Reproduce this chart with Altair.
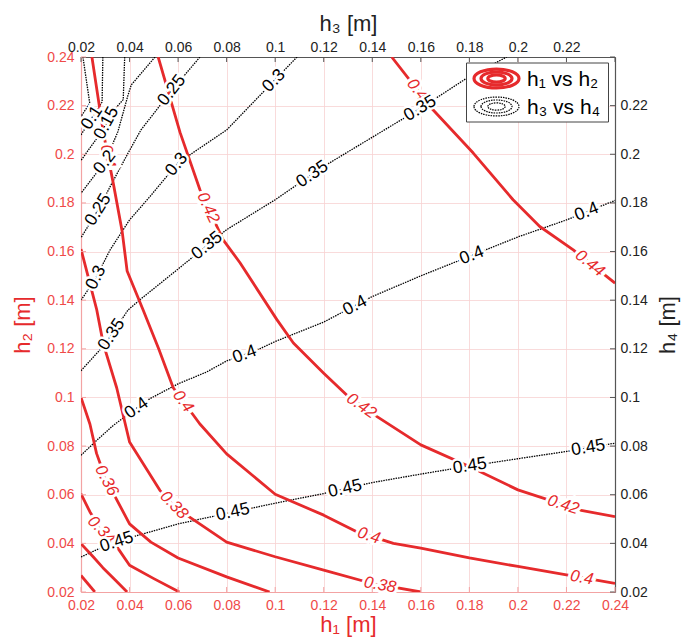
import math
import altair as alt
import pandas as pd

# ---------------- axis ticks ----------------
TICKS = [round(0.02 * i, 2) for i in range(1, 13)]       # 0.02 .. 0.24
TICKS_TOP = TICKS[:-1]                                  # 0.02 .. 0.22

# ---------------- red contours: h1 vs h2 ----------------
red_levels = [0.30, 0.32, 0.34, 0.36, 0.38, 0.40, 0.42, 0.44]
red_x = [
    [0.02, 0.0257],
    [0.02, 0.025, 0.029, 0.034, 0.039],
    [0.02, 0.0237, 0.028, 0.0339, 0.04, 0.05, 0.0605],
    [0.02, 0.0237, 0.0264, 0.030, 0.0347, 0.04, 0.0488, 0.06, 0.08, 0.0977],
    [0.02, 0.0265, 0.0292, 0.0347, 0.04, 0.0525, 0.06, 0.0689, 0.08, 0.10, 0.12, 0.14, 0.16],
    [0.0245, 0.0292, 0.0335, 0.037, 0.039, 0.0456, 0.052, 0.058, 0.0689, 0.08, 0.10, 0.12,
     0.1336, 0.1487, 0.16, 0.18, 0.20, 0.22, 0.24],
    [0.0518, 0.0608, 0.069, 0.0785, 0.0855, 0.1007, 0.1075, 0.12, 0.13, 0.1418, 0.16, 0.18,
     0.20, 0.2255, 0.24],
    [0.148, 0.165, 0.1816, 0.198, 0.209, 0.2228, 0.24],
]
red_y = [
    [0.0268, 0.02],
    [0.0399, 0.0345, 0.030, 0.025, 0.02],
    [0.0604, 0.0529, 0.046, 0.0399, 0.031, 0.0255, 0.02],
    [0.100, 0.089, 0.077, 0.067, 0.058, 0.048, 0.0405, 0.034, 0.0262, 0.02],
    [0.161, 0.136, 0.122, 0.104, 0.0817, 0.0618, 0.054, 0.048, 0.0405, 0.0345, 0.029, 0.0235, 0.02],
    [0.24, 0.209, 0.187, 0.168, 0.152, 0.136, 0.12, 0.104, 0.0892, 0.0768, 0.0602, 0.0516,
     0.0448, 0.040, 0.038, 0.034, 0.0305, 0.027, 0.0235],
    [0.24, 0.209, 0.1854, 0.1649, 0.1554, 0.132, 0.1224, 0.110, 0.1005, 0.0922, 0.0805, 0.0716,
     0.062, 0.0537, 0.051],
    [0.24, 0.2183, 0.2005, 0.1813, 0.1703, 0.1607, 0.147],
]
red_label_text = ["0.34", "0.36", "0.38", "0.4", "0.4", "0.42", "0.42", "0.42", "0.4", "0.4",
                  "0.38", "0.44", "0.44"]
red_label_line = [2, 3, 4, 5, 5, 6, 6, 6, 5, 5, 4, 7, 7]
red_label_x = [0.0285, 0.0306, 0.0583, 0.0621, 0.0311, 0.0724, 0.1356, 0.2187, 0.1386, 0.2263,
               0.1432, 0.2297, 0.1597]

# ---------------- black contours: h3 vs h4 ----------------
black_levels = [0.05, 0.10, 0.15, 0.20, 0.25, 0.30, 0.35, 0.40, 0.45]
black_x = [
    [0.0208, 0.0236, 0.02],
    [0.029, 0.0287, 0.0245, 0.02],
    [0.038, 0.0374, 0.033, 0.029, 0.02],
    [0.0505, 0.0407, 0.0394, 0.0352, 0.03, 0.02],
    [0.069, 0.0574, 0.0447, 0.0394, 0.032, 0.0271, 0.02],
    [0.02, 0.0258, 0.032, 0.04, 0.0484, 0.06, 0.08, 0.10, 0.109],
    [0.02, 0.03, 0.0394, 0.0443, 0.058, 0.08, 0.10, 0.12, 0.14, 0.16, 0.18, 0.1954],
    [0.02, 0.0264, 0.0333, 0.04, 0.0484, 0.06, 0.0716, 0.08, 0.0936, 0.10, 0.12, 0.14, 0.16,
     0.18, 0.20, 0.22, 0.24],
    [0.02, 0.03, 0.04, 0.06, 0.08, 0.10, 0.12, 0.14, 0.16, 0.18, 0.20, 0.22, 0.24],
]
black_y = [
    [0.24, 0.221, 0.2155],
    [0.24, 0.2215, 0.215, 0.208],
    [0.24, 0.2225, 0.2175, 0.210, 0.1975],
    [0.24, 0.2285, 0.2244, 0.2093, 0.197, 0.184],
    [0.24, 0.2263, 0.21, 0.2005, 0.1867, 0.1772, 0.1657],
    [0.140, 0.1485, 0.1607, 0.173, 0.1826, 0.1965, 0.210, 0.2307, 0.24],
    [0.111, 0.122, 0.136, 0.1402, 0.1512, 0.169, 0.1813, 0.195, 0.207, 0.219, 0.232, 0.24],
    [0.0762, 0.0823, 0.0885, 0.0935, 0.0995, 0.1056, 0.1104, 0.115, 0.12, 0.123, 0.131, 0.1415,
     0.150, 0.158, 0.166, 0.173, 0.181],
    [0.0344, 0.039, 0.0423, 0.048, 0.0523, 0.0565, 0.0605, 0.065, 0.0685, 0.0718, 0.0748,
     0.0778, 0.0812],
]
black_label_text = ["0.45", "0.45", "0.45", "0.45", "0.45",
                    "0.4", "0.4", "0.4", "0.4", "0.4",
                    "0.35", "0.35", "0.35", "0.35",
                    "0.3", "0.3", "0.3", "0.25", "0.25", "0.2", "0.15", "0.1"]
black_label_line = [8, 8, 8, 8, 8, 7, 7, 7, 7, 7, 6, 6, 6, 6, 5, 5, 5, 4, 4, 3, 2, 1]
black_label_x = [0.0347, 0.0826, 0.1288, 0.1802, 0.229,
                 0.0429, 0.0874, 0.1329, 0.181, 0.2283,
                 0.0326, 0.0719, 0.1153, 0.1597,
                 0.0262, 0.0594, 0.0995, 0.0271, 0.0574, 0.0298, 0.0305, 0.0245]

legend_names = ["h₁ vs h₂", "h₃ vs h₄"]

# ---------------- styling ----------------
RED = "#e62a2c"
RED_AXIS = "#ef4a48"
RED_DOMAIN = "#f3a3a3"
GRID = "#f8d2d2"
DARK = "#222222"
FONT = "Liberation Sans"
W, H = 534, 535


def lines_frame(xs, ys, levels):
    rows = []
    for k, (lx, ly) in enumerate(zip(xs, ys)):
        for i, (a, b) in enumerate(zip(lx, ly)):
            rows.append({"seg": k, "level": levels[k], "i": i, "x": a, "y": b})
    return pd.DataFrame(rows)


def place(xs, ys, line_idx, lab_x, texts):
    rows = []
    for t, k, x in zip(texts, line_idx, lab_x):
        pts = sorted(zip(xs[k], ys[k]))
        y, slope = pts[0][1], 0.0
        for (x0, y0), (x1, y1) in zip(pts[:-1], pts[1:]):
            if x0 <= x <= x1 and x1 > x0:
                slope = (y1 - y0) / (x1 - x0)
                y = y0 + slope * (x - x0)
                break
        ang = (-math.degrees(math.atan(slope))) % 360
        rows.append({"t": t, "x": x, "y": y, "a": ang})
    return pd.DataFrame(rows)


red_df = lines_frame(red_x, red_y, red_levels)
black_df = lines_frame(black_x, black_y, black_levels)
red_lab = place(red_x, red_y, red_label_line, red_label_x, red_label_text)
black_lab = place(black_x, black_y, black_label_line, black_label_x, black_label_text)
ticks_all = pd.DataFrame({"v": TICKS})

SC = alt.Scale(domain=[0.02, 0.24], nice=False, zero=False)

common = dict(format=".2~f", labelFont=FONT, titleFont=FONT, labelFontSize=14,
              titleFontSize=22, titleFontWeight="normal", ticks=False, labelFlush=False,
              labelOverlap=False, domainWidth=1.2)
ax_bottom = alt.Axis(orient="bottom", values=TICKS, title="h₁ [m]", labelColor=RED_AXIS,
                     titleColor=RED, labelPadding=6, titlePadding=2, domainColor=RED_DOMAIN,
                     grid=True, gridColor=GRID, gridWidth=0.8, **common)
ax_left = alt.Axis(orient="left", values=TICKS, title="h₂ [m]", labelColor=RED_AXIS,
                   titleColor=RED, labelPadding=7, titlePadding=12, domainColor=RED_DOMAIN,
                   grid=True, gridColor=GRID, gridWidth=0.8, **common)
ax_top = alt.Axis(orient="top", values=TICKS_TOP, title="h₃ [m]", labelColor=DARK,
                  titleColor=DARK, labelPadding=3, titlePadding=5, domainColor="#555555",
                  grid=False, **common)
ax_right = alt.Axis(orient="right", values=TICKS_TOP, title="h₄ [m]", labelColor=DARK,
                    titleColor=DARK, titleAngle=270, titleBaseline="top", labelPadding=5,
                    titlePadding=10, domainColor="#555555", grid=False, **common)


def XR(f="x"):
    return alt.X(f"{f}:Q", scale=SC, axis=ax_bottom)


def YR(f="y"):
    return alt.Y(f"{f}:Q", scale=SC, axis=ax_left)


def XB(f="x"):
    return alt.X(f"{f}:Q", scale=SC, axis=ax_top)


def YB(f="y"):
    return alt.Y(f"{f}:Q", scale=SC, axis=ax_right)


# ---- black group (top/right axes) ----
black_lines = alt.Chart(black_df).mark_line(
    color="#000000", strokeWidth=1.3, strokeDash=[1.5, 1.0], clip=True
).encode(x=XB(), y=YB(), detail="seg:N", order="i:Q")
top_ticks = alt.Chart(ticks_all).mark_rule(color="#555555", strokeWidth=1).encode(
    x=XB("v"), y=alt.value(0), y2=alt.value(5))
right_ticks = alt.Chart(ticks_all).mark_rule(color="#555555", strokeWidth=1).encode(
    y=YB("v"), x=alt.value(W), x2=alt.value(W - 5))
black_group = alt.layer(black_lines, top_ticks, right_ticks)

# ---- red group (bottom/left axes) ----
red_lines = alt.Chart(red_df).mark_line(
    color=RED, strokeWidth=2.8, clip=True, strokeJoin="round"
).encode(x=XR(), y=YR(), detail="seg:N", order="i:Q")
red_halo = alt.Chart(red_lab).mark_text(
    font=FONT, fontSize=16.5, fontStyle="italic", fill="white", stroke="white", strokeWidth=6,
    align="center", baseline="middle"
).encode(x=XR(), y=YR(), text="t:N", angle=alt.Angle("a:Q", scale=None))
red_text = alt.Chart(red_lab).mark_text(
    font=FONT, fontSize=16.5, fontStyle="italic", color=RED, align="center", baseline="middle"
).encode(x=XR(), y=YR(), text="t:N", angle=alt.Angle("a:Q", scale=None))
bottom_ticks = alt.Chart(ticks_all).mark_rule(color=RED_DOMAIN, strokeWidth=1).encode(
    x=XR("v"), y=alt.value(H), y2=alt.value(H - 5))
left_ticks = alt.Chart(ticks_all).mark_rule(color=RED_DOMAIN, strokeWidth=1).encode(
    y=YR("v"), x=alt.value(0), x2=alt.value(5))
red_group = alt.layer(red_lines, red_halo, red_text, bottom_ticks, left_ticks)

# ---- black labels (no axes) ----
XN = alt.X("x:Q", scale=SC, axis=None)
YN = alt.Y("y:Q", scale=SC, axis=None)
black_halo = alt.Chart(black_lab).mark_text(
    font=FONT, fontSize=17.5, fill="white", stroke="white", strokeWidth=5,
    align="center", baseline="middle"
).encode(x=XN, y=YN, text="t:N", angle=alt.Angle("a:Q", scale=None))
black_text = alt.Chart(black_lab).mark_text(
    font=FONT, fontSize=17.5, color="#000000", align="center", baseline="middle"
).encode(x=XN, y=YN, text="t:N", angle=alt.Angle("a:Q", scale=None))
blabel_group = alt.layer(black_halo, black_text)

# ---- legend ----
ELL = "M -1 0 A 1 0.42 0 1 1 1 0 A 1 0.42 0 1 1 -1 0 Z"
leg_box = alt.Chart(pd.DataFrame({"k": [0]})).mark_rect(
    fill="white", stroke="#444444", strokeWidth=1
).encode(x=alt.value(385.5), x2=alt.value(527.5), y=alt.value(6), y2=alt.value(65))
leg_df = pd.DataFrame({"name": legend_names, "row": [0, 1]})
ell_rows = []
for r in range(2):
    for s in [2025, 961, 300]:
        ell_rows.append({"row": r, "s": s})
ell_df = pd.DataFrame(ell_rows)
leg_red = alt.Chart(ell_df[ell_df.row == 0]).mark_point(
    shape=ELL, filled=False, color=RED, strokeWidth=3.2, opacity=1
).encode(x=alt.value(415.5), y=alt.value(21.5), size=alt.Size("s:Q", scale=None))
leg_black = alt.Chart(ell_df[ell_df.row == 1]).mark_point(
    shape=ELL, filled=False, color="#000000", strokeWidth=1.2, strokeDash=[1.5, 1.0], opacity=1
).encode(x=alt.value(415.5), y=alt.value(49.5), size=alt.Size("s:Q", scale=None))
leg_t1 = alt.Chart(leg_df[leg_df.row == 0]).mark_text(
    font=FONT, fontSize=21, align="left", baseline="alphabetic", color="#000000"
).encode(x=alt.value(446), y=alt.value(28.5), text="name:N")
leg_t2 = alt.Chart(leg_df[leg_df.row == 1]).mark_text(
    font=FONT, fontSize=21, align="left", baseline="alphabetic", color="#000000"
).encode(x=alt.value(446), y=alt.value(56.5), text="name:N")
legend_group = alt.layer(leg_box, leg_red, leg_black, leg_t1, leg_t2)

chart = alt.layer(black_group, red_group, blabel_group, legend_group).resolve_scale(
    x="independent", y="independent"
).properties(
    width=W, height=H,
    padding={"left": 81, "top": 57, "right": 81, "bottom": 47},
    autosize=alt.AutoSizeParams(type="none"),
    background="white",
).configure_view(stroke=None)

chart.save("out.html", embed_options={"renderer": "svg", "actions": False})
